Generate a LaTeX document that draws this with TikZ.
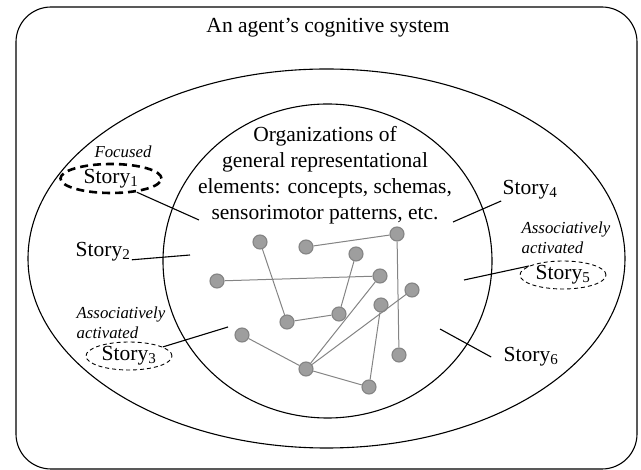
\documentclass[tikz,border=0pt]{standalone}
\usepackage{fontspec}
\setmainfont{Liberation Serif}
\usetikzlibrary{shapes.geometric}
\definecolor{nodegray}{RGB}{158,158,158}
\definecolor{linkgray}{RGB}{132,132,132}
\tikzset{
	concept/.style = {
		shape=circle,
		draw=linkgray,
		fill=nodegray,
		minimum size=14pt,
		inner sep=0pt
	},
	link/.style = {
		linkgray,
		line width=1pt
	},
	story/.style = {
		font=\fontsize{21.5}{26}\selectfont,
		inner sep=1pt
	},
	note/.style = {
		font=\fontsize{16.8}{19.5}\selectfont\itshape,
		align=left,
		inner sep=0pt
	},
	focus/.style = {
		story,
		shape=ellipse,
		draw,
		line width=2.6pt,
		dash pattern=on 8pt off 5pt,
		minimum width=101pt,
		minimum height=29pt,
		inner sep=0pt
	},
	active/.style = {
		story,
		shape=ellipse,
		draw,
		line width=0.9pt,
		dash pattern=on 4pt off 3pt,
		minimum width=86pt,
		minimum height=28pt,
		inner sep=0pt
	}
}

\begin{document}
\begin{tikzpicture}[x=1pt, y=-1pt, line width=1.1pt]
		\useasboundingbox (0,0) rectangle (641,470);
		% frame and the two regions
		\draw[rounded corners=35pt] (16,7) rectangle (637,469);
		\draw (326.5,258.5) ellipse [x radius=298.5pt, y radius=189.5pt];
		\draw (327.5,261) ellipse [x radius=164.5pt, y radius=157pt];
		\node[story] (title) at (328,28) {An agent's cognitive system};
		\node[story, align=center] (general) at (325,175) {
			Organizations of\\
			general representational\\
			elements: concepts, schemas,\\
			sensorimotor patterns, etc.
		};
		% stories
		\node[note] (focused) at (123,152) {Focused};
		\node[focus] (s1) at (111,178.5) {Story\textsubscript{1}};
		\node[story] (s2) at (103,252) {Story\textsubscript{2}};
		\node[note] (assoc3) at (121,323) {Associatively\\activated};
		\node[active] (s3) at (129,356) {Story\textsubscript{3}};
		\node[story] (s4) at (530,190) {Story\textsubscript{4}};
		\node[note] (assoc5) at (566,238) {Associatively\\activated};
		\node[active] (s5) at (563,275) {Story\textsubscript{5}};
		\node[story] (s6) at (531,357) {Story\textsubscript{6}};
		\coordinate (p1) at (199,220);
		\coordinate (p2) at (190,255);
		\coordinate (p3) at (228,327);
		\coordinate (p4) at (453,222);
		\coordinate (p5) at (464,280);
		\coordinate (p6) at (440,329);
		\draw (s1.-28) -- (p1);
		\draw ([yshift=-3pt]s2.base east) -- (p2);
		\draw (s3.15) -- (p3);
		\draw (p4) -- (s4.south west);
		\draw (p5) -- (s5.165);
		\draw (p6) -- ([xshift=-11pt]s6.west);
		% concepts
		\node[concept] (e1) at (260,242) {};
		\node[concept] (e2) at (306,247) {};
		\node[concept] (e3) at (397,234) {};
		\node[concept] (e4) at (356,254) {};
		\node[concept] (e5) at (217,281) {};
		\node[concept] (e6) at (380,276) {};
		\node[concept] (e7) at (412,290) {};
		\node[concept] (e8) at (381,305) {};
		\node[concept] (e9) at (339,314) {};
		\node[concept] (e10) at (287,322) {};
		\node[concept] (e11) at (242,335) {};
		\node[concept] (e12) at (399,355) {};
		\node[concept] (e13) at (306,369) {};
		\node[concept] (e14) at (369,387) {};
		\foreach \a/\b in {e1/e10, e2/e3, e3/e12, e4/e9, e10/e9, e5/e6, e6/e13, e7/e13, e8/e14, e11/e13, e13/e14}
			\draw[link] (\a) -- (\b);
\end{tikzpicture}
\end{document}
